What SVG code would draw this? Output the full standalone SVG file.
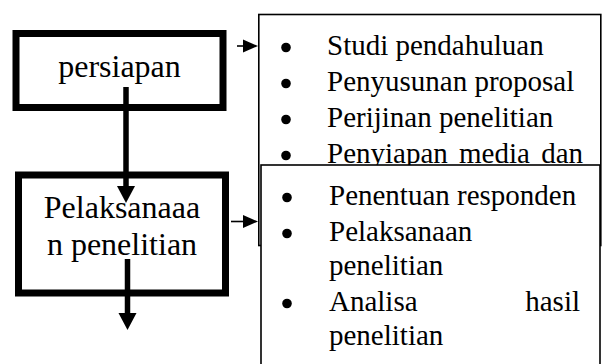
<svg xmlns="http://www.w3.org/2000/svg" width="602" height="364" viewBox="0 0 602 364">
  <style>
    .stage { fill: #fff; stroke: #000; stroke-width: 7; }
    .list { fill: #fff; stroke: #000; stroke-width: 1.6; }
    .stage-text { font-family: "Liberation Serif", "Times New Roman", serif; font-size: 32px; fill: #000; text-anchor: middle; }
    .item { font-family: "Liberation Serif", "Times New Roman", serif; font-size: 29px; fill: #000; }
    .dot { fill: #000; }
    .thick { stroke: #000; stroke-width: 5.5; fill: none; marker-end: url(#headBig); }
    .thin { stroke: #000; stroke-width: 1.6; fill: none; marker-end: url(#headSmall); }
  </style>
  <defs>
    <marker id="headBig" markerUnits="userSpaceOnUse" markerWidth="17" markerHeight="18" refX="0" refY="9" orient="auto" overflow="visible">
      <path d="M0,0 L17,9 L0,18 Z" fill="#000"/>
    </marker>
    <marker id="headSmall" markerUnits="userSpaceOnUse" markerWidth="15" markerHeight="13" refX="0" refY="6.5" orient="auto" overflow="visible">
      <path d="M0,0 L15,6.5 L0,13 Z" fill="#000"/>
    </marker>
  </defs>

  <rect width="602" height="364" fill="#fff"/>

  <!-- stage: preparation -->
  <g id="persiapan">
    <rect class="stage" x="16" y="33.5" width="207" height="74"/>
    <text class="stage-text" x="119.5" y="77">persiapan</text>
  </g>

  <!-- stage: execution -->
  <g id="pelaksanaan">
    <rect class="stage" x="18.5" y="175" width="207" height="118"/>
    <text class="stage-text" x="122" y="218">Pelaksanaaa</text>
    <text class="stage-text" x="122" y="255">n penelitian</text>
  </g>

  <!-- activity list for preparation -->
  <g id="list-persiapan">
    <rect class="list" x="258.8" y="14.5" width="342" height="231"/>
    <circle class="dot" cx="286" cy="47.5" r="4.8"/>
    <text class="item" x="327" y="55">Studi pendahuluan</text>
    <circle class="dot" cx="286" cy="83.5" r="4.8"/>
    <text class="item" x="327" y="91">Penyusunan proposal</text>
    <circle class="dot" cx="286" cy="119.5" r="4.8"/>
    <text class="item" x="327" y="127">Perijinan penelitian</text>
    <circle class="dot" cx="286" cy="155.5" r="4.8"/>
    <text class="item" x="327" y="163" word-spacing="4">Penyiapan media dan</text>
  </g>

  <!-- activity list for execution -->
  <g id="list-pelaksanaan">
    <rect class="list" x="261" y="165" width="339" height="215"/>
    <circle class="dot" cx="287" cy="197.5" r="4.8"/>
    <text class="item" x="329" y="205">Penentuan responden</text>
    <circle class="dot" cx="287" cy="233.5" r="4.8"/>
    <text class="item" x="329" y="241">Pelaksanaan</text>
    <text class="item" x="329" y="275">penelitian</text>
    <circle class="dot" cx="287" cy="303.5" r="4.8"/>
    <text class="item" x="329" y="311">Analisa</text>
    <text class="item" x="580" y="311" text-anchor="end">hasil</text>
    <text class="item" x="329" y="345">penelitian</text>
  </g>

  <!-- connectors -->
  <g id="connectors">
    <line class="thick" x1="126" y1="87" x2="126" y2="186"/>
    <line class="thick" x1="127.5" y1="259" x2="127.5" y2="313"/>
    <line class="thin" x1="237" y1="46" x2="243" y2="46"/>
    <line class="thin" x1="231" y1="221.5" x2="243" y2="221.5"/>
  </g>
</svg>
